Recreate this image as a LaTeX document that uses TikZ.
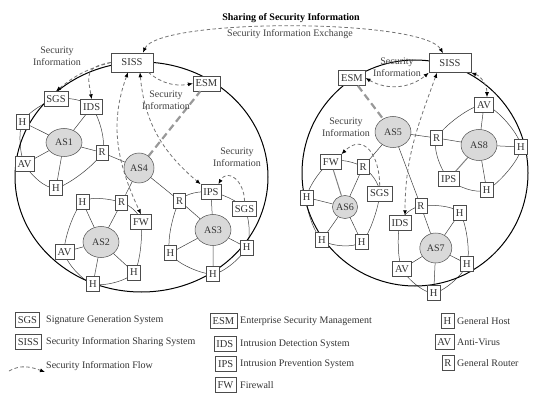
\documentclass[tikz,border=0pt]{standalone}
\usepackage{fontspec}
\setmainfont{Liberation Serif}
\usetikzlibrary{arrows.meta,positioning,shapes.geometric,backgrounds}

\begin{document}
\begin{tikzpicture}[
  x=1pt, y=1pt,
  >={Latex[length=5pt,width=4pt,color=black]},
  dev/.style={draw=black!70, fill=white, line width=0.5pt, text=black!80, font=\fontsize{10.5}{12}\selectfont, inner xsep=2.5pt, inner ysep=1pt, minimum height=15pt},
  siss/.style={dev, minimum width=42pt, minimum height=19pt},
  as/.style={ellipse, draw=black!70, fill=black!15, line width=0.5pt, minimum width=36pt, minimum height=31pt, inner sep=0pt, text=black!80, font=\fontsize{10}{12}\selectfont},
  link/.style={draw=black!75, line width=0.5pt},
  net/.style={draw=black, line width=1pt},
  flow/.style={draw=black!55, line width=0.8pt, dash pattern=on 3.5pt off 2.5pt, ->},
  ctrl/.style={draw=black!40, line width=2.2pt, dash pattern=on 7pt off 4pt},
  lbl/.style={align=center, text=black!75, font=\fontsize{10}{12}\selectfont},
  lgtext/.style={anchor=west, text=black!80, font=\fontsize{10}{12}\selectfont, inner sep=0pt}
]
\useasboundingbox (0,0) rectangle (535,394);

% the two domains
\draw[net] (141.5,217) ellipse [x radius=126.5, y radius=115];
\draw[net] (415,221) ellipse [x radius=113, y radius=113];

% left domain
\node[siss] (sissL) at (132,331.5) {SISS};
\node[dev] (esmL) at (206.5,310.5) {ESM};
\node[dev] (sgsL) at (56,295) {SGS};
\node[dev] (idsL) at (91.7,287) {IDS};
\node[dev] (h1a) at (22.5,272) {H};
\node[as, minimum height=28pt] (as1) at (64,251.5) {AS1};
\node[dev] (r1) at (102,241.5) {R};
\node[dev] (av1) at (24.5,230) {AV};
\node[dev] (h1b) at (56,206) {H};
\node[as, minimum width=30pt, minimum height=30pt] (as4) at (139,226) {AS4};
\node[dev] (h2a) at (82.5,192) {H};
\node[dev] (r2) at (121.7,191.5) {R};
\node[dev] (fw2) at (141,172) {FW};
\node[as] (as2) at (101,152) {AS2};
\node[dev] (av2) at (64.5,142) {AV};
\node[dev] (h2b) at (134,121.5) {H};
\node[dev] (h2c) at (93,110) {H};
\node[dev] (r3) at (179.7,193) {R};
\node[dev] (ips3) at (211,202) {IPS};
\node[dev] (sgs3) at (244.5,185) {SGS};
\node[as] (as3) at (213,164) {AS3};
\node[dev] (h3a) at (170.3,141) {H};
\node[dev] (h3b) at (246.7,146.5) {H};
\node[dev] (h3c) at (213,120) {H};

% right domain
\node[siss] (sissR) at (450,331) {SISS};
\node[dev] (esmR) at (352,316) {ESM};
\node[as] (as5) at (393,262) {AS5};
\node[dev] (r8) at (436.7,256) {R};
\node[dev] (av8) at (484,289) {AV};
\node[as] (as8) at (479,249) {AS8};
\node[dev] (h8a) at (521,247) {H};
\node[dev] (ips8) at (448.7,215) {IPS};
\node[dev] (h8b) at (486.7,204) {H};
\node[dev] (fw6) at (330.8,232) {FW};
\node[dev] (r6) at (363,227) {R};
\node[dev] (sgs6) at (379.7,200.5) {SGS};
\node[dev] (h6a) at (306.7,196.5) {H};
\node[as, minimum width=25pt, minimum height=23pt] (as6) at (345,187) {AS6};
\node[dev] (h6b) at (322,154) {H};
\node[dev] (h6c) at (361.7,152) {H};
\node[dev] (r7) at (420.8,188) {R};
\node[dev] (ids7) at (400,171) {IDS};
\node[dev] (h7a) at (459.7,181) {H};
\node[as, minimum width=32pt, minimum height=30pt] (as7) at (435.8,146) {AS7};
\node[dev] (av7) at (402,125) {AV};
\node[dev] (h7b) at (467,130) {H};
\node[dev] (h7c) at (433.7,101) {H};

% rings round each AS
\begin{scope}[on background layer]
\draw[link] plot[smooth cycle] coordinates {(sgsL) (idsL) (r1) (h1b) (av1) (h1a)};
\draw[link] plot[smooth cycle] coordinates {(h2a) (r2) (fw2) (h2b) (h2c) (av2)};
\draw[link] plot[smooth cycle] coordinates {(r3) (ips3) (sgs3) (h3b) (h3c) (h3a)};
\draw[link] plot[smooth cycle] coordinates {(av8) (h8a) (h8b) (ips8) (r8)};
\draw[link] plot[smooth cycle] coordinates {(fw6) (r6) (sgs6) (h6c) (h6b) (h6a)};
\draw[link] plot[smooth cycle] coordinates {(r7) (h7a) (h7b) (h7c) (av7) (ids7)};
\end{scope}

% links
\draw[link] (as1) -- (h1a) (as1) -- (idsL) (as1) -- (r1) (as1) -- (h1b) (as1) -- (av1);
\draw[link] (as2) -- (h2a) (as2) -- (r2) (as2) -- (h2b) (as2) -- (h2c) (as2) -- (av2);
\draw[link] (as3) -- (ips3) (as3) -- (r3) (as3) -- (h3a) (as3) -- (h3b) (as3) -- (h3c);
\draw[link] (r1) -- (as4) (as4) -- (r2) (as4) -- (r3);
\draw[link] (as8) -- (av8) (as8) -- (r8) (as8) -- (h8a) (as8) -- (h8b);
\draw[link, line width=1pt, draw=black!50] (as8) -- (ips8);
\draw[link] (as6) -- (r6) (as6) -- (h6a) (as6) -- (h6b) (as6) -- (h6c);
\draw[link, line width=1pt, draw=black!50] (as6) -- (fw6);
\draw[link] (as7) -- (r7) (as7) -- (h7a) (as7) -- (h7b) (as7) -- (h7c) (as7) -- (av7);
\draw[link] (as5) -- (r8) (as5) -- (r6) (as5) -- (r7);
\draw[ctrl] (as4) -- (esmL);
\draw[ctrl] (esmR) -- (as5);

% labels
\node[font=\bfseries\fontsize{10}{12}\selectfont, inner sep=0pt] (share) at (291,376) {Sharing of Security Information};
\node[lbl, inner sep=0pt] (exch) at (290,360) {Security Information Exchange};
\node[lbl] (info1) at (57,338) {Security\\Information};
\node[lbl] (info2) at (166,294) {Security\\Information};
\node[lbl] (info3) at (237,237) {Security\\Information};
\node[lbl] (info4) at (397,327) {Security\\Information};
\node[lbl] (info5) at (346,267) {Security\\Information};

% information flows
\draw[flow,<->] ([xshift=11pt]sissL.north) .. controls +(15,35) and +(-20,35) .. ([xshift=-7pt]sissR.north);
\draw[flow] (sissL.west) to[out=195,in=40] (sgsL.north);
\draw[flow] (sissL.west) to[out=190,in=100,looseness=1.6] (idsL.north);
\draw[flow,<->] ([xshift=-4pt]sissL.south) to[out=250,in=115] (fw2.north);
\draw[flow,<->] ([xshift=8pt]sissL.south) to[out=275,in=140] (ips3.north west);
\draw[flow] ([xshift=-5pt]sissL.south east) to[out=-40,in=190] (esmL.west);
\draw[flow] (sgs3.north) to[out=90,in=60,looseness=1.6] ([xshift=-3pt]ips3.north east);
\draw[flow,<->] (esmR.east) to[out=-30,in=220] (sissR.south west);
\draw[flow,<->] ([xshift=-13pt]sissR.south) to[out=250,in=90] ([xshift=5pt]ids7.north);
\draw[flow,<->] (sissR.south east) to[out=-20,in=90] ([xshift=3pt]av8.north);
\draw[flow] (sgs6.north) to[out=90,in=45,looseness=1.6] (fw6.north east);

% legend
\node[dev, anchor=west] (lgsgs) at (15,74) {SGS};
\node[lgtext] (lgsgst) at (46,74) {Signature Generation System};
\node[dev, anchor=west] (lgsiss) at (15,52) {SISS};
\node[lgtext] (lgsisst) at (46,52) {Security Information Sharing System};
\coordinate (lgfa) at (9,23);
\coordinate (lgfb) at (45,22);
\draw[flow] (lgfa) to[out=30,in=160] (lgfb);
\node[lgtext] (lgflowt) at (46,28) {Security Information Flow};
\node[dev, anchor=east] (lgesm) at (237,73) {ESM};
\node[lgtext] (lgesmt) at (240,73) {Enterprise Security Management};
\node[dev, anchor=east] (lgids) at (236,50) {IDS};
\node[lgtext] (lgidst) at (240,50) {Intrusion Detection System};
\node[dev, anchor=east] (lgips) at (236,30) {IPS};
\node[lgtext] (lgipst) at (240,30) {Intrusion Prevention System};
\node[dev, anchor=east] (lgfw) at (236,9) {FW};
\node[lgtext] (lgfwt) at (240,9) {Firewall};
\node[dev, anchor=east] (lgh) at (454,73) {H};
\node[lgtext] (lght) at (457,73) {General Host};
\node[dev, anchor=east] (lgav) at (454,52) {AV};
\node[lgtext] (lgavt) at (457,52) {Anti-Virus};
\node[dev, anchor=east] (lgr) at (454,31) {R};
\node[lgtext] (lgrt) at (457,31) {General Router};
\end{tikzpicture}
\end{document}
